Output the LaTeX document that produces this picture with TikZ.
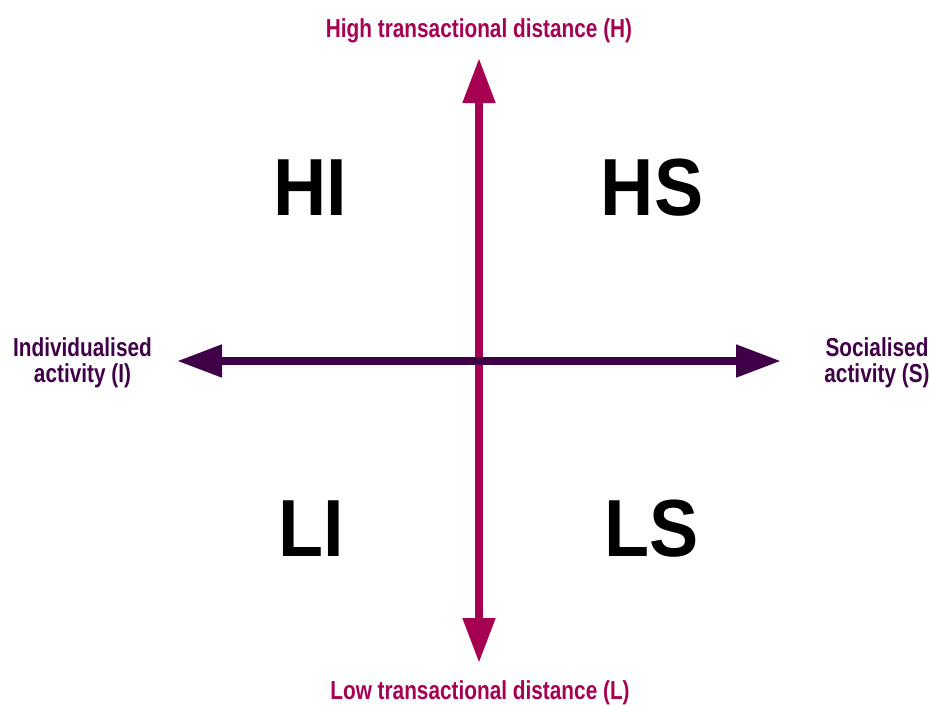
\documentclass[tikz,border=0pt]{standalone}
\usepackage{fontspec}
\setmainfont{Liberation Sans}
\usetikzlibrary{arrows.meta}
\definecolor{mag}{RGB}{165,0,82}
\definecolor{plum}{RGB}{64,0,72}
\tikzset{
  axisboth/.style={line width=8pt, {Triangle[length=45pt,width=31pt]}-{Triangle[length=45pt,width=31pt]}},
  axislabel/.style={inner sep=0pt, anchor=base, font=\fontsize{26}{26}\selectfont\bfseries},
  quad/.style={inner sep=0pt, anchor=base, font=\fontsize{81}{81}\selectfont\bfseries, text=black}
}
\newcommand{\narrow}[1]{\scalebox{0.8}[1]{#1}}
\newcommand{\bignarrow}[1]{\scalebox{0.91}[1]{#1}}
\begin{document}
\begin{tikzpicture}[x=1pt,y=-1pt]
\useasboundingbox (0,0) rectangle (931,705);
\coordinate (top) at (479,58);
\coordinate (bottom) at (479,663);
\coordinate (left) at (177,361);
\coordinate (right) at (781,361);
\draw[axisboth, mag] (bottom) -- (top);
\draw[axisboth, plum] (left) -- (right);
\node[axislabel, text=mag] (high) at (479,37) {\narrow{High transactional distance (H)}};
\node[axislabel, text=mag] (low) at (480,699) {\narrow{Low transactional distance (L)}};
\node[axislabel, text=plum] (ind) at (82.5,356) {\narrow{\begin{tabular}[t]{@{}c@{}}Individualised\\activity (I)\end{tabular}}};
\node[axislabel, text=plum] (soc) at (877,356) {\narrow{\begin{tabular}[t]{@{}c@{}}Socialised\\activity (S)\end{tabular}}};
\node[quad] (HI) at (310,215) {\bignarrow{HI}};
\node[quad] (HS) at (652,215) {\bignarrow{HS}};
\node[quad] (LI) at (311,556) {\bignarrow{LI}};
\node[quad] (LS) at (652,556) {\bignarrow{LS}};
\end{tikzpicture}
\end{document}
